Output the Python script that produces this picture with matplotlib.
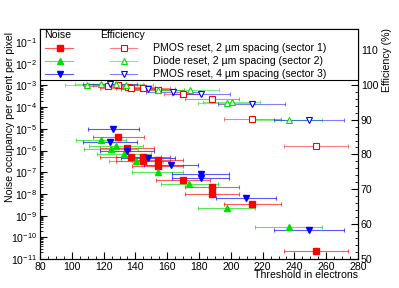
import matplotlib
matplotlib.use("Agg")
import matplotlib.pyplot as plt
import numpy as np
from matplotlib.patches import Rectangle
from matplotlib.lines import Line2D
from matplotlib.ticker import MultipleLocator, LogLocator, NullFormatter
from matplotlib.colors import to_rgba

plt.rcParams['font.family'] = ['Liberation Sans', 'DejaVu Sans']
plt.rcParams['mathtext.default'] = 'regular'

# ---------------- data ----------------
labels = ["PMOS reset, 2 \u00b5m spacing (sector 1)",
          "Diode reset, 2 \u00b5m spacing (sector 2)",
          "PMOS reset, 4 \u00b5m spacing (sector 3)"]
colors = ["#ff0000", "#00e000", "#0000ff"]

# noise occupancy (threshold, x-error, occupancy)
s1_thr = [129.1, 134.9, 137.0, 145.0, 145.0, 154.0, 154.0, 170.1, 188.4, 188.4, 213.5, 253.4]
s1_err = [16, 17, 19, 17, 17, 16, 16, 17, 17, 17, 18, 20]
s1_noise = [4.1e-6, 1.3e-6, 5.2e-7, 5.0e-7, 3.4e-7, 3.8e-7, 1.9e-7, 4.5e-8, 2.1e-8, 9.8e-9, 3.5e-9, 2.3e-11]

s2_thr = [118.4, 127.8, 124.7, 133.0, 140.1, 154.0, 173.9, 197.4, 236.3]
s2_err = [16, 17, 17, 17, 17, 16, 18, 18, 21]
s2_noise = [3.2e-6, 1.7e-6, 1.2e-6, 6.9e-7, 3.4e-7, 9.8e-8, 2.8e-8, 2.2e-9, 2.9e-10]

s3_thr = [126.1, 124.0, 134.5, 147.9, 162.2, 181.1, 181.1, 209.4, 249.4]
s3_err = [16, 17, 17, 17, 17, 18, 18, 19, 22]
s3_noise = [1.0e-5, 2.4e-6, 9.3e-7, 4.7e-7, 2.1e-7, 8.5e-8, 5.6e-8, 6.6e-9, 2.2e-10]

# efficiency (threshold, x-error, efficiency %)
s1_eff_thr = [122.8, 129.1, 135.5, 137.0, 145.0, 154.4, 170.1, 188.2, 213.5, 253.4]
s1_eff_err = [15, 16, 17, 19, 17, 16, 12, 17, 18, 20]
s1_eff = [99.7, 99.8, 99.4, 99.1, 99.1, 98.6, 97.4, 96.0, 90.3, 82.4]

s2_eff_thr = [109.7, 118.1, 127.8, 134.1, 154.4, 174.4, 197.3, 200.5, 236.3]
s2_eff_err = [14, 16, 17, 17, 16, 18, 18, 18, 21]
s2_eff = [100.0, 100.1, 100.1, 100.0, 98.6, 98.6, 94.9, 95.1, 89.8]

s3_eff_thr = [124.0, 147.9, 163.5, 181.3, 213.2, 249.4]
s3_eff_err = [17, 17, 17, 18, 21, 22]
s3_eff = [100.1, 98.8, 97.8, 97.4, 94.6, 89.8]

noise_sets = [(s1_thr, s1_err, s1_noise, 's'), (s2_thr, s2_err, s2_noise, '^'), (s3_thr, s3_err, s3_noise, 'v')]
eff_sets = [(s1_eff_thr, s1_eff_err, s1_eff, 's'), (s2_eff_thr, s2_eff_err, s2_eff, '^'), (s3_eff_thr, s3_eff_err, s3_eff, 'v')]

FS = 7.6

# ---------------- figure ----------------
fig = plt.figure(figsize=(3.99, 2.88), dpi=100)
ax = fig.add_axes([40/399, 1-259/288, 318/399, 230/288])
ax2 = ax.twinx()

for (thr, err, val, m), c in zip(noise_sets, colors):
    ax.errorbar(thr, val, xerr=err, fmt=m, color=c, ecolor=to_rgba(c, 0.65), elinewidth=0.8,
                capsize=1.2, capthick=0.8, markersize=4.8, zorder=3)

for (thr, err, val, m), c in zip(eff_sets, colors):
    ax2.errorbar(thr, val, xerr=err, fmt=m, color=to_rgba(c, 0.7), ecolor=to_rgba(c, 0.5), elinewidth=0.8,
                 capsize=1.2, capthick=0.8, markersize=5, markerfacecolor='white',
                 markeredgewidth=0.8, zorder=3)

ax.set_yscale('log')
ax.set_xlim(80, 280)
ax.set_ylim(1e-11, 0.4)
ax2.set_ylim(50, 116)

ax.xaxis.set_major_locator(MultipleLocator(20))
ax.xaxis.set_minor_locator(MultipleLocator(5))
ax.yaxis.set_major_locator(LogLocator(base=10, numticks=20))
ax.yaxis.set_minor_locator(LogLocator(base=10, subs=np.arange(2, 10), numticks=20))
ax.yaxis.set_minor_formatter(NullFormatter())
ax2.yaxis.set_major_locator(MultipleLocator(10))
ax2.yaxis.set_minor_locator(MultipleLocator(2))

ax.tick_params(axis='both', which='both', direction='in', labelsize=FS, top=False, right=False)
ax.tick_params(axis='both', which='major', length=5, width=0.8)
ax.tick_params(axis='both', which='minor', length=2.5, width=0.6)
ax.tick_params(axis='y', pad=2)
ax.tick_params(axis='x', pad=2)
ax2.tick_params(axis='y', which='both', direction='in', labelsize=FS, pad=2)
ax2.tick_params(axis='y', which='major', length=5, width=0.8)
ax2.tick_params(axis='y', which='minor', length=2.5, width=0.6)

for a in (ax, ax2):
    for sp in a.spines.values():
        sp.set_linewidth(0.8)

ax.set_xlabel("Threshold in electrons", fontsize=FS, loc='right')
ax.xaxis.set_label_coords(1.0, -0.05)
ax.set_ylabel("Noise occupancy per event per pixel", fontsize=FS, loc='top')
ax.yaxis.set_label_coords(-0.0786, 0.987)
ax2.set_ylabel("Efficiency (%)", fontsize=FS, loc='top')
ax2.yaxis.set_label_coords(1.0745, 1.004)

# ---------------- legend box ----------------
ly0 = (259-80)/230
ax2.add_patch(Rectangle((0, ly0), 1, 1-ly0, transform=ax2.transAxes, facecolor='white',
                        edgecolor='black', linewidth=0.8, zorder=10, clip_on=False))
ax2.text(0.012, 0.976, "Noise", transform=ax2.transAxes, fontsize=FS, va='center', ha='left', zorder=11)
ax2.text(0.189, 0.976, "Efficiency", transform=ax2.transAxes, fontsize=FS, va='center', ha='left', zorder=11)
rows = [0.917, 0.861, 0.804]
markers = ['s', '^', 'v']
for yv, c, m, lab in zip(rows, colors, markers, labels):
    ax2.add_line(Line2D([0.016, 0.104], [yv, yv], transform=ax2.transAxes, color=to_rgba(c, 0.65), lw=0.8, zorder=11))
    ax2.add_line(Line2D([0.063], [yv], transform=ax2.transAxes, marker=m, color=c, markersize=4.8, zorder=12))
    ax2.add_line(Line2D([0.22, 0.305], [yv, yv], transform=ax2.transAxes, color=to_rgba(c, 0.5), lw=0.8, zorder=11))
    ax2.add_line(Line2D([0.264], [yv], transform=ax2.transAxes, marker=m, color=to_rgba(c, 0.7), markersize=5,
                        markerfacecolor='white', markeredgewidth=0.8, zorder=12))
    ax2.text(0.355, yv, lab, transform=ax2.transAxes, fontsize=FS, va='center', ha='left', zorder=12)

fig.savefig("out.png", dpi=100)
